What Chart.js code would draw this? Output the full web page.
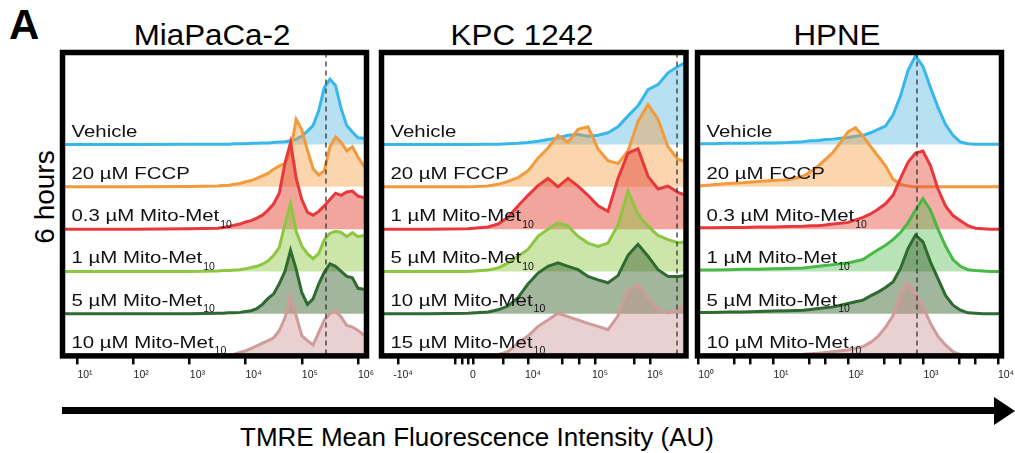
<!DOCTYPE html>
<html>
<head>
<meta charset="utf-8">
<script src="https://cdn.jsdelivr.net/npm/chart.js@4.4.1/dist/chart.umd.min.js"></script>
<style>
  html, body { margin: 0; padding: 0; background: #fff; }
  body { width: 1015px; height: 453px; position: relative; overflow: hidden; font-family: "Liberation Sans", Arial, sans-serif; color: #000; }
  canvas { position: absolute; top: 0; }
  .txt { position: absolute; white-space: nowrap; line-height: 1; }
  .title { top: 20.5px; font-size: 29px; transform: translateX(-50%) scaleX(1.08); }
</style>
</head>
<body>
<div class="txt" style="left:9px;top:4px;font-size:42px;font-weight:bold;">A</div>
<div class="txt title" style="left:211.5px;">MiaPaCa-2</div>
<div class="txt title" style="left:521.5px;">KPC 1242</div>
<div class="txt title" style="left:836.5px;">HPNE</div>
<div class="txt" style="left:45px;top:197px;font-size:28px;transform:translate(-50%,-50%) rotate(-90deg);">6 hours</div>

<canvas id="mia" width="340" height="400" style="left:45px"></canvas>
<canvas id="kpc" width="340" height="400" style="left:364px"></canvas>
<canvas id="hpne" width="335" height="400" style="left:680px"></canvas>

<div style="position:absolute;left:62px;top:407px;width:934px;height:6.5px;background:#000;"></div>
<div style="position:absolute;left:994px;top:397px;width:0;height:0;border-left:21px solid #000;border-top:14px solid transparent;border-bottom:14px solid transparent;"></div>
<div class="txt" style="left:477px;top:437px;font-size:26px;transform:translate(-50%,-50%);">TMRE Mean Fluorescence Intensity (AU)</div>

<script>
// ---- MiaPaCa-2 (x = log10 intensity) ----
const miaX = [0.7, 2.0, 3.0, 3.5, 3.6, 3.7, 3.8, 3.9, 4.0, 4.1, 4.2, 4.3, 4.4, 4.5, 4.6, 4.7, 4.8, 4.9, 5.0, 5.1, 5.2, 5.3, 5.4, 5.5, 5.6, 5.7, 5.8, 5.9, 6.0, 6.1, 6.2];
const miaVehicle = [0, 0, 0.01, 0.01, 0.01, 0.01, 0.02, 0.02, 0.02, 0.03, 0.03, 0.04, 0.04, 0.05, 0.06, 0.07, 0.09, 0.13, 0.2, 0.32, 0.45, 0.8, 1.35, 1.55, 1.4, 0.85, 0.45, 0.3, 0.16, 0.15, 0.2];
const miaFccp = [0, 0, 0.01, 0.02, 0.03, 0.04, 0.06, 0.08, 0.12, 0.15, 0.2, 0.26, 0.32, 0.42, 0.5, 0.55, 0.85, 1.6, 1.35, 0.87, 0.43, 0.28, 0.38, 0.95, 1.18, 1.05, 0.85, 0.95, 0.7, 0.5, 0.5];
const miaMito03 = [0, 0, 0.01, 0.02, 0.04, 0.06, 0.09, 0.12, 0.17, 0.2, 0.26, 0.33, 0.45, 0.6, 0.85, 1.56, 2.05, 1.2, 0.7, 0.4, 0.33, 0.42, 0.55, 0.7, 0.85, 0.8, 0.88, 0.9, 0.78, 0.75, 0.75];
const miaMito1 = [0, 0, 0, 0.01, 0.02, 0.02, 0.03, 0.04, 0.06, 0.09, 0.12, 0.17, 0.25, 0.38, 0.57, 1.12, 1.6, 0.95, 0.6, 0.42, 0.3, 0.42, 0.75, 0.9, 0.95, 0.92, 0.82, 0.92, 0.82, 0.85, 0.85];
const miaMito5 = [0, 0, 0, 0.01, 0.01, 0.02, 0.02, 0.03, 0.05, 0.07, 0.12, 0.22, 0.36, 0.47, 0.71, 1.0, 1.5, 1.05, 0.5, 0.22, 0.35, 0.7, 0.98, 1.18, 1.12, 1.0, 0.88, 0.85, 0.6, 0.58, 0.6];
const miaMito10 = [0, 0, 0, 0, 0.01, 0.02, 0.04, 0.08, 0.12, 0.18, 0.24, 0.3, 0.36, 0.43, 0.6, 0.9, 1.42, 0.95, 0.48, 0.36, 0.26, 0.55, 0.85, 1.0, 1.06, 0.92, 0.72, 0.68, 0.6, 0.5, 0.5];
const miaLabels = ['Vehicle', '20 µM FCCP', '0.3 µM Mito-Met', '1 µM Mito-Met', '5 µM Mito-Met', '10 µM Mito-Met'];
const miaTicks = [1, 2, 3, 4, 5, 6];
const miaTickLabels = ['10¹', '10²', '10³', '10⁴', '10⁵', '10⁶'];
const miaDash = 5.43;

// ---- KPC 1242 (x = biexponential display units) ----
const kpcX = [-8.7, -4, 0, 2, 3, 4, 5, 6, 7, 8, 9, 10, 11, 12, 13, 14, 15, 16, 17, 18, 19, 20, 21, 21.8];
const kpcVehicle = [0, 0, 0, 0.01, 0.01, 0.02, 0.03, 0.05, 0.08, 0.12, 0.16, 0.22, 0.24, 0.2, 0.22, 0.28, 0.42, 0.68, 0.92, 1.3, 1.42, 1.7, 1.85, 1.95];
const kpcFccp = [0, 0, 0, 0.02, 0.06, 0.13, 0.22, 0.38, 0.68, 0.92, 1.22, 1.05, 1.36, 1.42, 0.9, 0.62, 0.55, 0.85, 1.55, 1.95, 1.6, 0.95, 0.65, 0.6];
const kpcMito1 = [0, 0, 0.01, 0.05, 0.12, 0.28, 0.55, 0.8, 1.03, 1.2, 1.0, 1.2, 1.02, 0.8, 0.55, 0.42, 1.2, 1.8, 1.9, 1.25, 0.95, 1.02, 0.87, 0.8];
const kpcMito5 = [0, 0, 0, 0.03, 0.08, 0.2, 0.36, 0.52, 0.83, 1.0, 1.15, 1.07, 0.83, 0.67, 0.59, 0.67, 1.1, 1.9, 1.35, 1.07, 0.85, 0.75, 0.68, 0.7];
const kpcMito10 = [0, 0, 0.01, 0.04, 0.09, 0.18, 0.38, 0.7, 0.96, 1.12, 1.2, 1.12, 1.04, 0.88, 0.8, 0.73, 0.9, 1.38, 1.64, 1.36, 1.04, 0.88, 0.88, 0.9];
const kpcMito15 = [0, 0, 0, 0, 0.03, 0.1, 0.3, 0.47, 0.7, 0.85, 1.01, 0.93, 0.85, 0.77, 0.7, 0.62, 0.95, 1.56, 1.68, 1.35, 1.12, 1.02, 1.1, 1.2];
const kpcLabels = ['Vehicle', '20 µM FCCP', '1 µM Mito-Met', '5 µM Mito-Met', '10 µM Mito-Met', '15 µM Mito-Met'];
const kpcTicks = [-7, -1.3, -0.6, 0, 0.5, 3.5, 6, 9.4, 11.1, 12.7, 16.6, 18.2];
const kpcTickLabels = ['-10⁴', '', '', '0', '', '', '10⁴', '', '', '10⁵', '', '10⁶'];
const kpcDash = 20.9;

// ---- HPNE (x = log10 intensity) ----
const hpneX = [0, 0.2, 0.4, 0.6, 0.8, 1.0, 1.2, 1.4, 1.5, 1.6, 1.7, 1.8, 1.9, 2.0, 2.1, 2.2, 2.3, 2.4, 2.5, 2.6, 2.7, 2.8, 2.9, 3.0, 3.1, 3.2, 3.3, 3.4, 3.5, 3.6, 3.7, 3.8, 3.9, 4.0, 4.1];
const hpneVehicle = [0.02, 0.02, 0.03, 0.03, 0.04, 0.04, 0.05, 0.07, 0.09, 0.1, 0.12, 0.13, 0.15, 0.17, 0.2, 0.22, 0.28, 0.36, 0.44, 0.7, 1.15, 1.75, 2.1, 1.85, 1.35, 0.88, 0.48, 0.22, 0.06, 0.02, 0.01, 0.01, 0.01, 0.01, 0.01];
const hpneFccp = [0.02, 0.05, 0.08, 0.1, 0.13, 0.15, 0.17, 0.25, 0.36, 0.49, 0.65, 0.82, 1.05, 1.3, 1.4, 1.2, 0.96, 0.73, 0.5, 0.18, 0.06, 0.02, 0, 0, 0, 0, 0, 0, 0, 0, 0, 0, 0, 0, 0];
const hpneMito03 = [0.03, 0.03, 0.04, 0.04, 0.05, 0.05, 0.06, 0.07, 0.08, 0.08, 0.1, 0.12, 0.14, 0.16, 0.22, 0.28, 0.36, 0.47, 0.6, 0.8, 1.2, 1.58, 1.8, 1.85, 1.5, 0.95, 0.55, 0.32, 0.2, 0.08, 0.02, 0.01, 0, 0, 0];
const hpneMito1 = [0.03, 0.03, 0.04, 0.05, 0.05, 0.06, 0.07, 0.08, 0.1, 0.12, 0.14, 0.16, 0.18, 0.2, 0.24, 0.28, 0.4, 0.51, 0.62, 0.75, 0.92, 1.15, 1.45, 1.72, 1.45, 1.0, 0.6, 0.28, 0.12, 0.04, 0.02, 0.01, 0, 0, 0];
const hpneMito5 = [0.03, 0.03, 0.04, 0.04, 0.05, 0.06, 0.07, 0.08, 0.1, 0.12, 0.14, 0.16, 0.2, 0.24, 0.28, 0.32, 0.42, 0.51, 0.62, 0.75, 1.07, 1.54, 1.86, 1.7, 1.22, 0.83, 0.43, 0.2, 0.08, 0.02, 0.01, 0, 0, 0, 0];
const hpneMito10 = [0, 0, 0.01, 0.01, 0.02, 0.02, 0.03, 0.04, 0.05, 0.06, 0.08, 0.1, 0.12, 0.14, 0.18, 0.22, 0.32, 0.46, 0.68, 0.95, 1.48, 1.72, 1.48, 1.17, 0.77, 0.46, 0.26, 0.1, 0.03, 0.01, 0, 0, 0, 0, 0];
const hpneLabels = ['Vehicle', '20 µM FCCP', '0.3 µM Mito-Met', '1 µM Mito-Met', '5 µM Mito-Met', '10 µM Mito-Met'];
const hpneTicks = [0, 0.48, 0.7, 1, 1.48, 1.7, 2, 2.48, 2.7, 3, 3.48, 3.7, 4];
const hpneTickLabels = ['10⁰', '', '', '10¹', '', '', '10²', '', '', '10³', '', '', '10⁴'];
const hpneDash = 2.92;

const subscript = '10';

const lineColors = ['#38b7ea', '#f39a3c', '#e8383d', '#8dc641', '#2f6b30', '#cf9b9b'];
const fillColors = ['rgba(40,160,220,0.33)', 'rgba(243,154,60,0.42)', 'rgba(228,75,60,0.5)',
                    'rgba(141,198,65,0.45)', 'rgba(60,100,50,0.48)', 'rgba(200,140,140,0.4)'];
const hpneLines = ['#38b7ea', '#f39a3c', '#e8383d', '#4ab848', '#2f6b30', '#cf9b9b'];
const hpneFills = ['rgba(40,160,220,0.33)', 'rgba(243,154,60,0.42)', 'rgba(228,75,60,0.45)',
                   'rgba(74,184,72,0.4)', 'rgba(60,100,50,0.48)', 'rgba(200,140,140,0.4)'];

// dashed marker, row names and frame on top of the histograms
const overlay = {
  id: 'overlay',
  afterDatasetsDraw(chart, args, opts) {
    const ctx = chart.ctx;
    const a = chart.chartArea;
    const x = chart.scales.x, y = chart.scales.y;

    ctx.save();
    ctx.beginPath();
    ctx.rect(a.left, a.top, a.right - a.left, a.bottom - a.top);
    ctx.clip();
    ctx.setLineDash([5, 4]);
    ctx.strokeStyle = '#333';
    ctx.lineWidth = 1.3;
    const dx = x.getPixelForValue(opts.dash);
    ctx.beginPath();
    ctx.moveTo(dx, a.top);
    ctx.lineTo(dx, a.bottom);
    ctx.stroke();
    ctx.restore();

    chart.data.datasets.forEach(ds => {
      const yb = y.getPixelForValue(ds.fill.value) - 8;
      const xl = a.left + 9;
      ctx.save();
      ctx.fillStyle = '#111';
      ctx.textBaseline = 'alphabetic';
      ctx.font = '17px "Liberation Sans", Arial, sans-serif';
      const w = ctx.measureText(ds.label).width * 1.2;
      ctx.translate(xl, yb);
      ctx.scale(1.2, 1);
      ctx.fillText(ds.label, 0, 0);
      ctx.restore();
      if (ds.label.indexOf('Mito-Met') >= 0) {
        ctx.save();
        ctx.fillStyle = '#111';
        ctx.font = '10.5px "Liberation Sans", Arial, sans-serif';
        ctx.fillText(subscript, xl + w + 1, yb + 6.5);
        ctx.restore();
      }
    });

    ctx.save();
    ctx.lineWidth = 5.5;
    ctx.strokeStyle = '#000';
    ctx.strokeRect(a.left, a.top, a.right - a.left, a.bottom - a.top);
    ctx.restore();
  }
};

function makePanel(id, xs, series, labels, lines, fills, xMin, xMax, ticks, tickLabels, labelShift, dash, padRight) {
  const n = series.length;
  const datasets = series.map((vals, i) => {
    const base = n - 1 - i;
    return {
      label: labels[i],
      data: xs.map((v, k) => ({ x: v, y: base + vals[k] })),
      borderColor: lines[i],
      backgroundColor: fills[i],
      borderWidth: 3,
      pointRadius: 0,
      tension: 0,
      fill: { value: base },
      order: base
    };
  });

  return new Chart(document.getElementById(id), {
    type: 'line',
    data: { datasets: datasets },
    options: {
      responsive: false,
      animation: false,
      devicePixelRatio: 1,
      layout: { padding: { left: 17.5, right: padRight, top: 52.5, bottom: 14 } },
      plugins: {
        legend: { display: false },
        tooltip: { enabled: false },
        overlay: { dash: dash }
      },
      scales: {
        x: {
          type: 'linear',
          min: xMin,
          max: xMax,
          afterBuildTicks: s => { s.ticks = ticks.map(v => ({ value: v })); },
          ticks: {
            autoSkip: false,
            maxRotation: 0,
            padding: 4.5,
            labelOffset: labelShift,
            color: '#222',
            font: { family: '"Liberation Sans", Arial, sans-serif', size: 10.5 },
            callback: (v, i) => tickLabels[i]
          },
          grid: { drawOnChartArea: false, drawTicks: true, tickLength: 8.5, tickWidth: 2.5, tickColor: '#000', lineWidth: 2.5, color: '#000' },
          border: { display: false }
        },
        y: { display: false, min: 0, max: 7.18 }
      }
    },
    plugins: [overlay]
  });
}

makePanel('mia', miaX, [miaVehicle, miaFccp, miaMito03, miaMito1, miaMito5, miaMito10],
  miaLabels, lineColors, fillColors, 0.742, 6.151, miaTicks, miaTickLabels, 8, miaDash, 18.5);
makePanel('kpc', kpcX, [kpcVehicle, kpcFccp, kpcMito1, kpcMito5, kpcMito10, kpcMito15],
  kpcLabels, lineColors, fillColors, -8.65, 21.8, kpcTicks, kpcTickLabels, 5, kpcDash, 18);
makePanel('hpne', hpneX, [hpneVehicle, hpneFccp, hpneMito03, hpneMito1, hpneMito5, hpneMito10],
  hpneLabels, hpneLines, hpneFills, -0.007, 4.047, hpneTicks, hpneTickLabels, 8, hpneDash, 13.5);
</script>
</body>
</html>
